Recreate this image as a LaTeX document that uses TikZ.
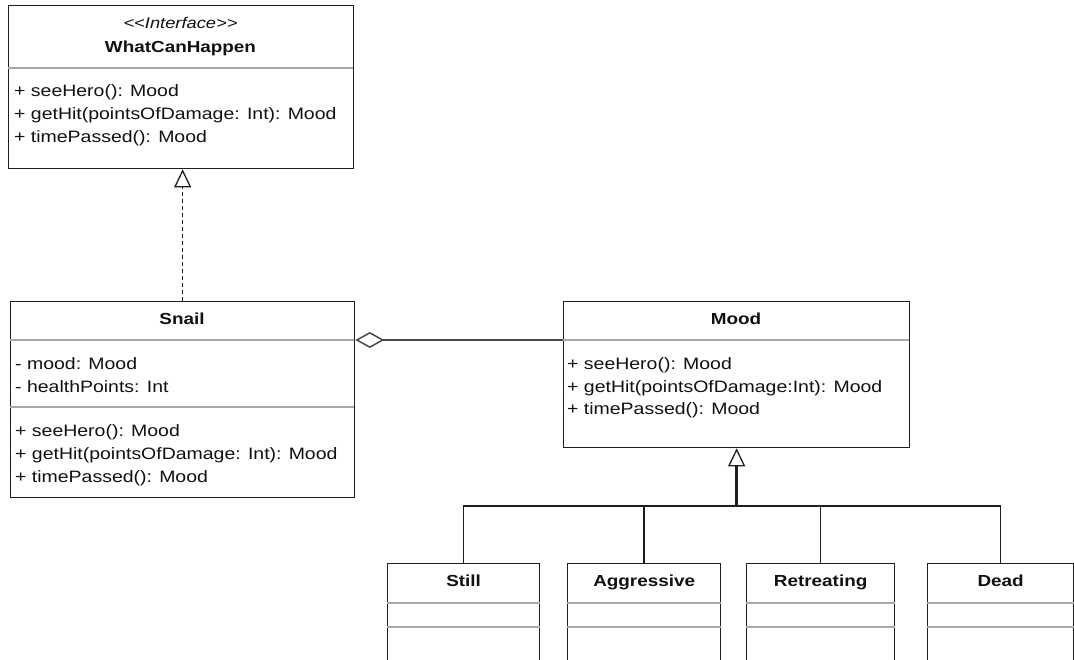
\documentclass[tikz,border=0pt]{standalone}
\usepackage{fontspec}
\setmainfont{Liberation Sans}[FakeStretch=1.18, Ligatures=TeXOff]
\usetikzlibrary{arrows.meta}

\definecolor{boxline}{HTML}{1E1E1E}
\definecolor{sepline}{HTML}{A8A8A8}
\definecolor{assocline}{HTML}{4A4A4A}
\definecolor{ink}{HTML}{111111}

\tikzset{
  classbox/.style={draw=boxline, line width=1.3pt, fill=white, inner sep=0pt, anchor=north west},
  member/.style={anchor=base west, inner sep=0pt, text=ink, font=\fontsize{16.5}{20}\selectfont},
  classname/.style={anchor=base, inner sep=0pt, text=ink, font=\fontsize{16}{20}\selectfont\bfseries},
  stereo/.style={anchor=base, inner sep=0pt, text=ink, font=\fontsize{15.5}{20}\selectfont\itshape},
  divider/.style={draw=sepline, line width=1.2pt},
  realize/.style={draw=boxline, line width=1.3pt, dash pattern=on 4pt off 3pt,
    -{Triangle[open, length=18pt, width=17pt, line width=1.3pt, fill=white]}},
  aggregate/.style={draw=assocline, line width=2pt,
    -{Diamond[open, length=29pt, width=16pt, line width=1.5pt, fill=white]}},
  inherit/.style={draw=boxline, line width=2.5pt,
    -{Triangle[open, length=18pt, width=17pt, line width=1.3pt, fill=white]}},
  branch/.style={draw=boxline, line width=1.4pt}
}

\begin{document}
\begin{tikzpicture}[x=1pt, y=-1pt]
\useasboundingbox (0,0) rectangle (1074,659);
\clip (0,0) rectangle (1074,659);

% interface WhatCanHappen
\node[classbox, minimum width=345pt, minimum height=163pt] (wch) at (8,5) {};
\node[stereo] (wchstereo) at (180.5,28) {<<Interface>>};
\node[classname] (wchname) at (180.5,52) {WhatCanHappen};
\draw[divider] (8,68) -- (353,68);
\node[member] (wchm1) at (14,96) {+ seeHero(): Mood};
\node[member] (wchm2) at (14,119) {+ getHit(pointsOfDamage: Int): Mood};
\node[member] (wchm3) at (14,142) {+ timePassed(): Mood};

% class Snail
\node[classbox, minimum width=344pt, minimum height=196pt] (snail) at (10,301) {};
\node[classname] (snailname) at (182,324) {Snail};
\draw[divider] (10,340) -- (354,340);
\node[member] (snaila1) at (15,369) {- mood: Mood};
\node[member] (snaila2) at (15,392) {- healthPoints: Int};
\draw[divider] (10,407) -- (354,407);
\node[member] (snailm1) at (15,436) {+ seeHero(): Mood};
\node[member] (snailm2) at (15,459) {+ getHit(pointsOfDamage: Int): Mood};
\node[member] (snailm3) at (15,482) {+ timePassed(): Mood};

% class Mood
\node[classbox, minimum width=346pt, minimum height=146pt] (mood) at (563,301) {};
\node[classname] (moodname) at (736,324) {Mood};
\draw[divider] (563,340) -- (909,340);
\node[member] (moodm1) at (567,369) {+ seeHero(): Mood};
\node[member] (moodm2) at (567,392) {+ getHit(pointsOfDamage:Int): Mood};
\node[member] (moodm3) at (567,414) {+ timePassed(): Mood};

% concrete moods
\node[classbox, minimum width=152pt, minimum height=120pt] (still) at (387,563) {};
\node[classbox, minimum width=153pt, minimum height=120pt] (aggr) at (567,563) {};
\node[classbox, minimum width=148pt, minimum height=120pt] (retr) at (746,563) {};
\node[classbox, minimum width=146pt, minimum height=120pt] (dead) at (927,563) {};
\foreach \n/\t in {still/Still, aggr/Aggressive, retr/Retreating, dead/Dead}{
  \node[classname] (\n name) at ([yshift=-23pt]\n.north) {\t};
  \draw[divider] ([yshift=-40pt]\n.north west) -- ([yshift=-40pt]\n.north east);
  \draw[divider] ([yshift=-64pt]\n.north west) -- ([yshift=-64pt]\n.north east);
}

% relations
\coordinate (aggy) at (0,340);
\coordinate (huby) at (0,506);
\coordinate (hub) at (mood.south |- huby);

\draw[realize] (snail.north) -- (snail.north |- wch.south);
\draw[aggregate] (mood.west |- aggy) -- (snail.east |- aggy);
\draw[branch] (still.north) -- (still.north |- huby) -- (dead.north |- huby) -- (dead.north);
\draw[branch] (aggr.north) -- (aggr.north |- huby);
\draw[branch] (retr.north) -- (retr.north |- huby);
\draw[inherit] (hub) -- (mood.south);
\end{tikzpicture}
\end{document}
